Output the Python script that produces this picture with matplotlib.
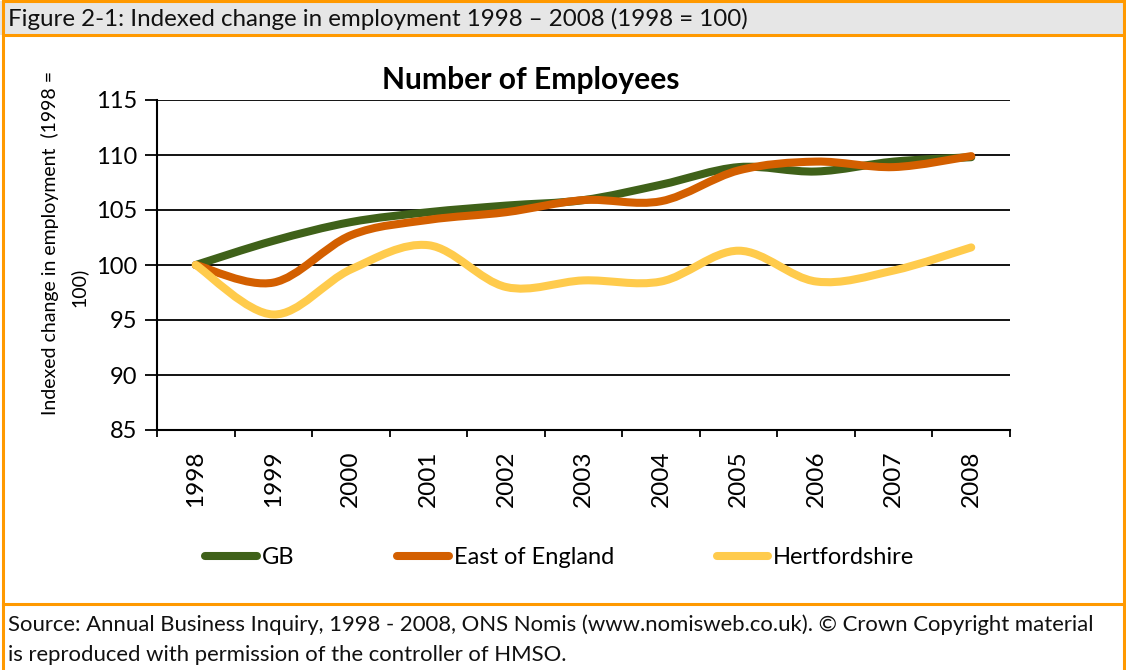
import numpy as np
import matplotlib.pyplot as plt
from matplotlib.path import Path
from matplotlib.patches import PathPatch, Rectangle
from matplotlib.lines import Line2D

years = ['1998', '1999', '2000', '2001', '2002', '2003', '2004', '2005', '2006', '2007', '2008']
gb = [100.0, 102.2, 103.9, 104.8, 105.4, 105.9, 107.3, 108.9, 108.5, 109.4, 109.8]
east = [100.0, 98.4, 102.7, 104.1, 104.8, 105.9, 105.8, 108.6, 109.4, 108.9, 109.9]
herts = [100.0, 95.5, 99.6, 101.8, 98.0, 98.6, 98.5, 101.3, 98.5, 99.5, 101.6]

series_names = ['GB', 'East of England', 'Hertfordshire']
colours = ['#3f6119', '#d35f00', '#ffcb4c']

W, H = 1126, 670
FONT = 'Lato'
plt.rcParams['font.family'] = FONT

fig = plt.figure(figsize=(W / 100, H / 100), dpi=100)

# frame, header band and footer separator
fig.add_artist(Rectangle((0, 1 - 35 / H), 1, 34 / H, transform=fig.transFigure,
                         facecolor='#e6e6e6', edgecolor='none', zorder=0))
orange = '#ff9900'
for yp in [1, 35, 604]:
    fig.add_artist(Line2D([3 / W, 1124 / W], [1 - yp / H, 1 - yp / H], transform=fig.transFigure,
                          color=orange, lw=2.2))
for xp in [3, 1124]:
    fig.add_artist(Line2D([xp / W, xp / W], [0, 1 - 1 / H], transform=fig.transFigure,
                          color=orange, lw=2.2))

fig.text(8 / W, 1 - 19 / H, 'Figure 2-1: Indexed change in employment 1998 \u2013 2008 (1998 = 100)',
         fontsize=17.4, va='center', ha='left', color='#111111')
fig.text(8 / W, 1 - 625 / H, 'Source: Annual Business Inquiry, 1998 - 2008, ONS Nomis (www.nomisweb.co.uk). \u00a9 Crown Copyright material',
         fontsize=15.9, va='center', ha='left', color='#111111')
fig.text(8 / W, 1 - 655 / H, 'is reproduced with permission of the controller of HMSO.',
         fontsize=15.9, va='center', ha='left', color='#111111')

ax = fig.add_axes([157 / W, 1 - 430 / H, (1010 - 157) / W, 330 / H])


def smooth_path(xs, ys):
    # bezier segments like Excel's smoothed line
    pts = np.column_stack([xs, ys]).astype(float)
    n = len(pts)
    verts = [pts[0]]
    codes = [Path.MOVETO]
    for i in range(n - 1):
        p0 = pts[max(i - 1, 0)]
        p1 = pts[i]
        p2 = pts[i + 1]
        p3 = pts[min(i + 2, n - 1)]
        c1 = p1 + (p2 - p0) / 6.0
        c2 = p2 - (p3 - p1) / 6.0
        verts += [c1, c2, p2]
        codes += [Path.CURVE4] * 3
    return Path(verts, codes)


x = np.arange(len(years))
handles = []
for vals, name, col in zip([gb, east, herts], series_names, colours):
    patch = PathPatch(smooth_path(x, vals), facecolor='none', edgecolor=col, lw=5.8,
                      capstyle='round', joinstyle='round', zorder=3)
    ax.add_patch(patch)
    handles.append(Line2D([], [], color=col, lw=5.8, solid_capstyle='round', label=name))

ax.set_xlim(-0.5, len(years) - 0.5)
ax.set_ylim(85, 115)
ax.set_yticks(np.arange(85, 116, 5))
ax.set_xticks(x)
ax.set_xticklabels(years, rotation=90, fontsize=17.6)
ax.set_xticks(np.arange(-0.5, len(years), 1), minor=True)
ax.tick_params(axis='x', which='major', length=0, pad=15)
ax.tick_params(axis='x', which='minor', length=5, width=1.3, direction='out')
ax.tick_params(axis='y', length=9, width=1.3, direction='out', labelsize=17, pad=5)
ax.yaxis.grid(True, color='black', lw=1.3)
ax.set_axisbelow(True)
for s in ['top', 'right']:
    ax.spines[s].set_visible(False)
for s in ['left', 'bottom']:
    ax.spines[s].set_linewidth(1.5)

fig.text(50 / W, 1 - 243 / H, 'Indexed change in employment  (1998 =', rotation=90,
         fontsize=14, ha='center', va='center')
fig.text(79 / W, 1 - 287 / H, '100)', rotation=90, fontsize=14, ha='center', va='center')

fig.text(531 / W, 1 - 80 / H, 'Number of Employees', fontsize=21.6, fontweight='bold',
         ha='center', va='center')

fig.legend(handles=handles, loc='center left', bbox_to_anchor=(205 / W, 1 - 558 / H),
           ncol=3, frameon=False, fontsize=17, handlelength=2.2, handletextpad=0.2,
           columnspacing=4.35, borderaxespad=0, borderpad=0)

fig.savefig('out.png', dpi=100)
